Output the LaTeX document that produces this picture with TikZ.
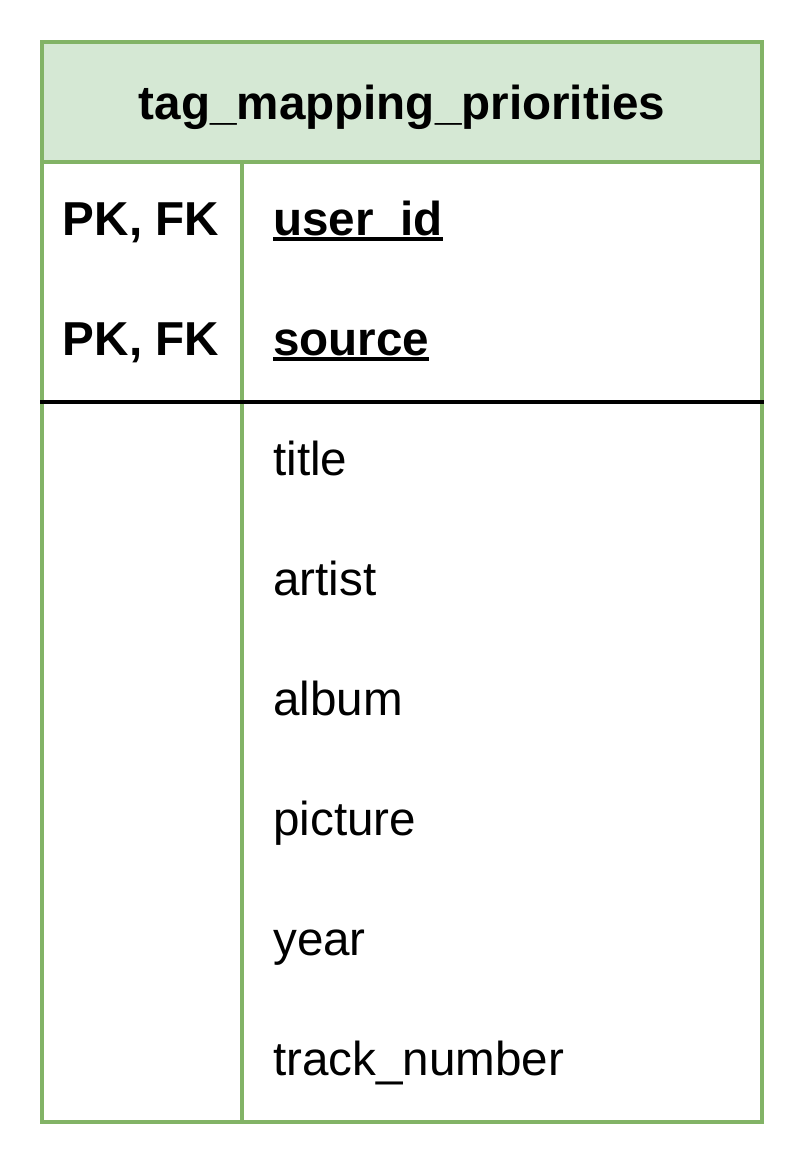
\documentclass[tikz,border=0pt]{standalone}
\usepackage{fontspec}
\setmainfont{Liberation Sans}
\definecolor{hdrfill}{HTML}{D5E8D4}
\definecolor{hdrline}{HTML}{82B366}
\newcommand{\keyname}[1]{\setbox0\hbox{#1}\rlap{\rule[-0.13em]{\wd0}{0.08em}}\box0}

\begin{document}
\begin{tikzpicture}[x=1pt,y=-1pt,
    frame/.style={draw=hdrline,line width=4pt},
    hdr/.style={font=\fontsize{47.6}{56}\selectfont\bfseries,anchor=base},
    key/.style={font=\fontsize{47.6}{56}\selectfont\bfseries},
    attr/.style={font=\fontsize{47.6}{56}\selectfont,anchor=base west}]
  \useasboundingbox (0,0) rectangle (804,1164);
  \fill[hdrfill] (42,42) rectangle (762,162);
  \draw[frame] (42,162) -- (762,162);
  \draw[frame] (242,162) -- (242,1122);
  \draw[frame] (42,42) rectangle (762,1122);
  \draw[line width=4pt] (40,402) -- (764,402);
  \node[hdr] (tbl) at (402,119) {tag\_mapping\_priorities};
  \node[key,anchor=base] (k1) at (141,235) {PK, FK};
  \node[key,anchor=base] (k2) at (141,355) {PK, FK};
  \node[key,anchor=base west,inner sep=0pt] (userid) at (273,235) {\keyname{user\_id}};
  \node[key,anchor=base west,inner sep=0pt] (source) at (273,355) {\keyname{source}};
  % attribute rows
  \foreach \name [count=\i] in {title,artist,album,picture,year,track\_number}
    \node[attr,inner sep=0pt] (a\i) at (273,355+120*\i) {\name};
\end{tikzpicture}
\end{document}
